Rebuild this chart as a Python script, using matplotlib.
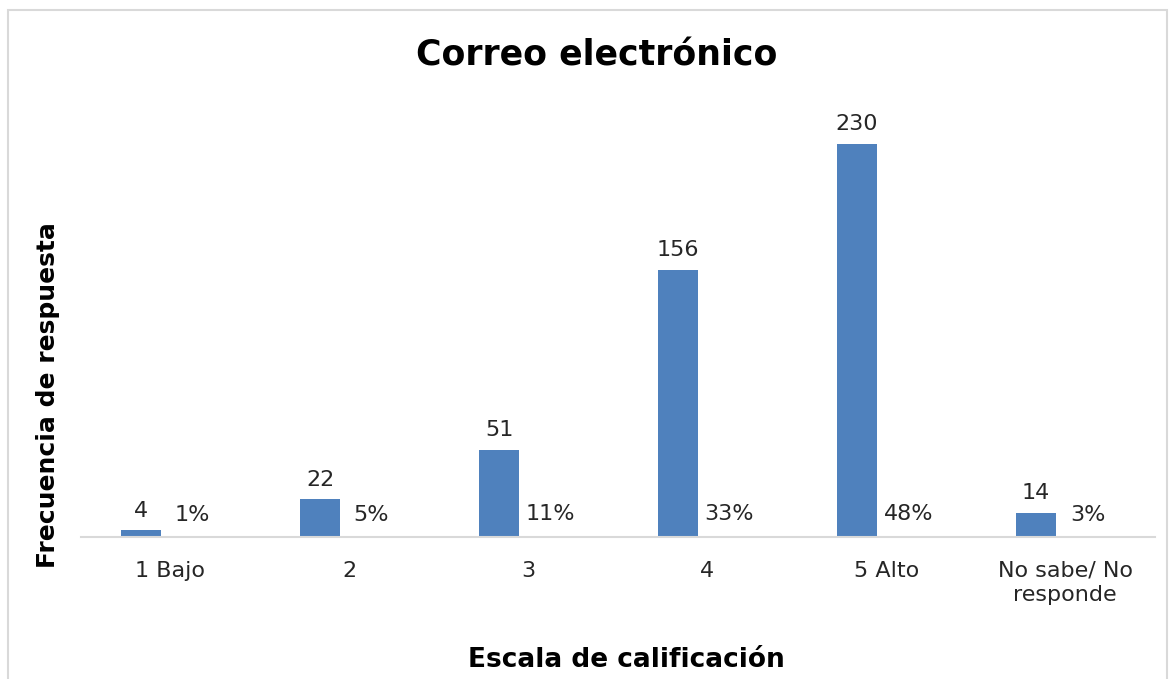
import numpy as np
import matplotlib
matplotlib.use("Agg")
import matplotlib.pyplot as plt
from matplotlib.patches import Rectangle

# data
categories = ["1 Bajo", "2", "3", "4", "5 Alto", "No sabe/ No\nresponde"]
counts = [4, 22, 51, 156, 230, 14]
shares = [0.01, 0.05, 0.11, 0.33, 0.48, 0.03]
share_labels = ["1%", "5%", "11%", "33%", "48%", "3%"]

blue = "#4F81BD"
red = "#C0504D"
grey = "#D9D9D9"

plt.rc('font', family='DejaVu Sans')

fig = plt.figure(figsize=(11.7, 6.79), dpi=100)
ax = fig.add_axes([0.069, 0.209, 0.918, 0.630])

x = np.arange(len(categories))
w = 0.223
off = 0.163

b1 = ax.bar(x - off, counts, w, color=blue, zorder=3)
b2 = ax.bar(x + off, shares, w, color=red, zorder=3)

for xi, c in zip(x, counts):
    ax.annotate(str(c), (xi - off, c), xytext=(0, 7), textcoords="offset points",
                ha="center", va="bottom", fontsize=16, color="#262626")
for xi, s, lab in zip(x, shares, share_labels):
    ax.annotate(lab, (xi + off, s), xytext=(-5, 9), textcoords="offset points",
                ha="center", va="bottom", fontsize=16, color="#262626")

ax.set_xlim(-0.5, len(categories) - 0.5)
ax.set_ylim(0, 250)
ax.set_yticks([])
ax.set_xticks(x)
ax.set_xticklabels(categories, fontsize=16, color="#262626", linespacing=1.25)
ax.tick_params(axis="x", length=0, pad=17)

for s in ["top", "right", "left"]:
    ax.spines[s].set_visible(False)
ax.spines["bottom"].set_color(grey)
ax.spines["bottom"].set_linewidth(1.5)
ax.spines["bottom"].set_zorder(4)

ax.set_xlabel("Escala de calificación", fontsize=19, fontweight="bold")
ax.set_ylabel("Frecuencia de respuesta", fontsize=18, fontweight="bold")
ax.xaxis.set_label_coords(0.508, -0.258)
ax.yaxis.set_label_coords(-0.019, 0.332)

fig.text(0.51, 0.918, "Correo electrónico", ha="center", va="center",
         fontsize=25, fontweight="bold")

# light frame around the chart area
fig.patches.append(Rectangle((8 / 1170, -0.02), 1159 / 1170, 1 - 10 / 679 + 0.02,
                             transform=fig.transFigure, fill=False,
                             edgecolor=grey, linewidth=1.5))

fig.savefig("out.png", dpi=100)
